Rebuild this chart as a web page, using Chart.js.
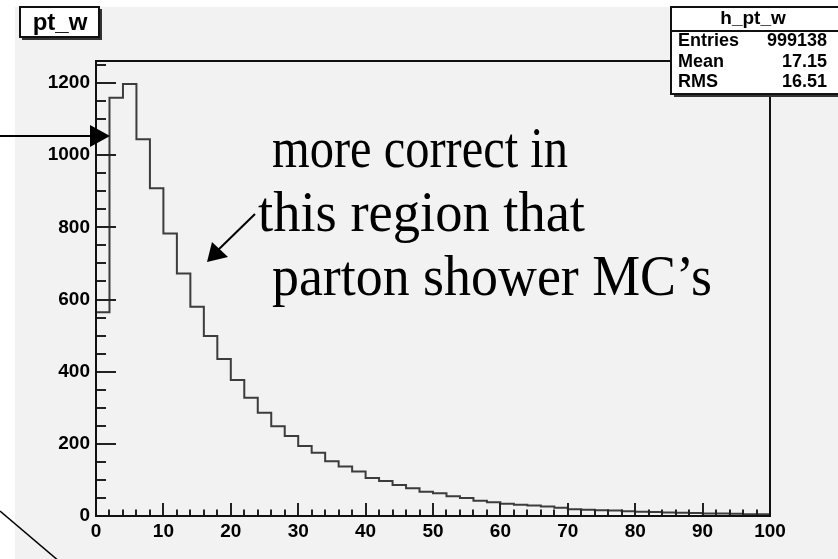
<!DOCTYPE html>
<html><head><meta charset="utf-8">
<script src="https://cdn.jsdelivr.net/npm/chart.js@4.4.1/dist/chart.umd.min.js"></script>
<style>html,body{margin:0;padding:0;background:#fff}#wrap{width:838px;height:559px;position:relative}</style>
</head><body><div id="wrap"><canvas id="c" width="838" height="559"></canvas></div>
<script>
// ---- data ----
const histName = 'pt_w';
const statTitle = 'h_pt_w';
const statNames = ['Entries', 'Mean', 'RMS'];
const statValues = ['999138', '17.15', '16.51'];
const binLowEdges = [0,2,4,6,8,10,12,14,16,18,20,22,24,26,28,30,32,34,36,38,40,42,44,46,48,50,52,54,56,58,60,62,64,66,68,70,72,74,76,78,80,82,84,86,88,90,92,94,96,98];
const binUpperEdge = 100;
const binCounts = [565,1159,1197,1044,908,783,672,580,499,435,377,328,286,249,222,194,175,152,137,123,105,97,86,77,67,63,55,50,42,38,34,31,29,26,23,19,17,16,15,13,12,11,10,9,8,7,7,6,5,5];
const xTickValues = [0,10,20,30,40,50,60,70,80,90,100];
const yTickValues = [0,200,400,600,800,1000,1200];
const noteLines = ['more correct in', 'this region that', 'parton shower MC\u2019s'];

const points = binLowEdges.map((x, i) => ({x: x, y: binCounts[i]}));
points.push({x: binUpperEdge, y: binCounts[binCounts.length - 1]});

const bgPlugin = {
  id: 'bg',
  beforeDraw(chart) {
    const c = chart.ctx;
    c.save();
    c.fillStyle = '#ffffff';
    c.fillRect(0, 0, chart.width, chart.height);
    c.fillStyle = '#f2f2f2';
    c.fillRect(15, 7, chart.width - 15, chart.height - 7);
    c.restore();
  }
};

const framePlugin = {
  id: 'frame',
  afterDatasetsDraw(chart) {
    const c = chart.ctx, a = chart.chartArea;
    const xs = chart.scales.x, ys = chart.scales.y;
    c.save();
    c.strokeStyle = '#222';
    c.lineWidth = 2;
    for (let v = 0; v <= ys.max; v += 50) {
      const y = Math.round(ys.getPixelForValue(v));
      const len = (v % 200 === 0) ? 20 : 10;
      c.beginPath(); c.moveTo(a.left, y); c.lineTo(a.left + len, y); c.stroke();
    }
    for (let v = 0; v <= xs.max; v += 2) {
      const x = Math.round(xs.getPixelForValue(v));
      const len = (v % 10 === 0) ? 13 : 6.5;
      c.beginPath(); c.moveTo(x, a.bottom); c.lineTo(x, a.bottom - len); c.stroke();
    }
    c.strokeStyle = '#111';
    c.strokeRect(a.left, a.top, a.right - a.left, a.bottom - a.top);
    c.restore();
  },
  afterDraw(chart) {
    const c = chart.ctx;
    c.save();
    // title box
    c.fillStyle = '#333';
    c.fillRect(22, 37, 80, 3);
    c.fillRect(99, 9, 3, 31);
    c.fillStyle = '#ffffff';
    c.fillRect(20, 7, 79, 30);
    c.strokeStyle = '#111'; c.lineWidth = 2;
    c.strokeRect(20, 7, 79, 30);
    c.fillStyle = '#000';
    c.font = 'bold 24px "Liberation Sans", Arial, sans-serif';
    c.textAlign = 'center'; c.textBaseline = 'alphabetic';
    c.fillText(histName, 60, 29.5);

    // stat box
    const bx = 671, by = 7, bw = 180, bh = 87;
    c.fillStyle = '#333';
    c.fillRect(bx + 3, by + bh, bw, 3);
    c.fillStyle = '#ffffff';
    c.fillRect(bx, by, bw, bh);
    c.strokeStyle = '#111'; c.lineWidth = 2;
    c.strokeRect(bx, by, bw, bh);
    c.beginPath(); c.moveTo(bx, 31); c.lineTo(bx + bw, 31); c.stroke();
    c.fillStyle = '#000';
    c.font = 'bold 19px "Liberation Sans", Arial, sans-serif';
    c.textAlign = 'center'; c.textBaseline = 'middle';
    c.fillText(statTitle, 753, 19);
    c.font = 'bold 18px "Liberation Sans", Arial, sans-serif';
    const rowY = [41.5, 62, 82.5];
    statNames.forEach((n, i) => {
      c.textAlign = 'left'; c.fillText(n, 678, rowY[i]);
      c.textAlign = 'right'; c.fillText(statValues[i], 827, rowY[i]);
    });

    // annotation text
    c.font = '56px "Liberation Serif", "Times New Roman", serif';
    c.textAlign = 'left'; c.textBaseline = 'alphabetic';
    const nx = [272, 258, 272], ny = [167, 231, 295], nw = [296, 327, 440];
    noteLines.forEach((t, i) => c.fillText(t, nx[i], ny[i], nw[i]));

    // arrows
    c.strokeStyle = '#000'; c.fillStyle = '#000'; c.lineWidth = 2;
    c.beginPath(); c.moveTo(0, 136); c.lineTo(92, 136); c.stroke();
    c.beginPath(); c.moveTo(90, 125); c.lineTo(90, 147); c.lineTo(110, 136); c.closePath(); c.fill();
    c.beginPath(); c.moveTo(255, 214); c.lineTo(216, 252); c.stroke();
    c.beginPath(); c.moveTo(207, 262); c.lineTo(212, 242); c.lineTo(228, 257); c.closePath(); c.fill();
    c.lineWidth = 1.5;
    c.beginPath(); c.moveTo(0, 511); c.lineTo(60, 562); c.stroke();
    c.restore();
  }
};

const tickFont = {family: '"Liberation Sans", Arial, sans-serif', weight: 'bold', size: 19};

new Chart(document.getElementById('c').getContext('2d'), {
  type: 'line',
  data: {datasets: [{data: points, stepped: 'before', borderColor: '#3c3c3c', borderWidth: 2,
    pointRadius: 0, fill: false, tension: 0}]},
  options: {
    responsive: false, animation: false, devicePixelRatio: 1,
    layout: {padding: {left: 0, right: 68, top: 61, bottom: 0}},
    plugins: {legend: {display: false}, tooltip: {enabled: false}},
    scales: {
      x: {
        type: 'linear', min: 0, max: 100,
        afterFit(s) { s.height = 43; },
        afterBuildTicks(s) { s.ticks = xTickValues.map(v => ({value: v})); },
        grid: {display: false, drawTicks: false}, border: {display: false},
        ticks: {autoSkip: false, maxRotation: 0, padding: 4, font: tickFont, color: '#000',
          callback: v => String(v)}
      },
      y: {
        type: 'linear', min: 0, max: 1261,
        afterFit(s) { s.width = 96; },
        afterBuildTicks(s) { s.ticks = yTickValues.map(v => ({value: v})); },
        grid: {display: false, drawTicks: false}, border: {display: false},
        ticks: {autoSkip: false, padding: 6, font: tickFont, color: '#000',
          callback: v => String(v)}
      }
    }
  },
  plugins: [bgPlugin, framePlugin]
});
</script></body></html>
